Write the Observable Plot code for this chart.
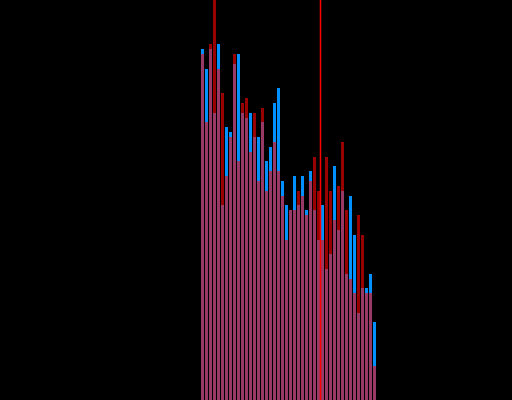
<!DOCTYPE html>
<html>
<head>
<meta charset="utf-8">
<script src="https://cdn.jsdelivr.net/npm/d3@7"></script>
<script src="https://cdn.jsdelivr.net/npm/@observablehq/plot@0.6"></script>
<style>
  html, body { margin: 0; padding: 0; background: #000; }
  #chart svg { display: block; }
</style>
</head>
<body>
<div id="chart"></div>
<script>
// Bin counts for the two overlaid distributions (bins 0..43).
const blueCounts = [351, 331, 351, 287, 356, 195, 273, 268, 336, 346, 287,
                    282, 287, 263, 263, 278, 239, 253, 297, 312, 219, 195,
                    190, 224, 195, 224, 190, 229, 190, 160, 195, 131, 146,
                    234, 170, 209, 126, 204, 165, 87, 112, 112, 126, 78];
const redCounts  = [346, 278, 356, 400, 331, 307, 224, 263, 346, 239, 297,
                    302, 248, 287, 219, 292, 209, 229, 258, 229, 204, 160,
                    190, 190, 209, 204, 185, 219, 243, 209, 160, 243, 209,
                    180, 214, 258, 190, 121, 107, 185, 165, 107, 107, 34];
// Mean position marked with a vertical rule (in bin units).
const meanBin = [29.75];

const blue = blueCounts.map((v, i) => ({bin: i, count: v}));
const red  = redCounts.map((v, i) => ({bin: i, count: v}));

const chart = Plot.plot({
  width: 512,
  height: 400,
  margin: 0,
  style: {background: "#000", overflow: "hidden"},
  x: {type: "linear", domain: [0, 44], range: [201, 377], axis: null},
  y: {domain: [0, 400], axis: null},
  marks: [
    Plot.rect(blue, {x1: "bin", x2: d => d.bin + 1, y1: 0, y2: "count",
                     insetRight: 1, fill: "#0090ff"}),
    Plot.rect(red, {x1: "bin", x2: d => d.bin + 1, y1: 0, y2: "count",
                    insetRight: 1, fill: "#ff0000", fillOpacity: 0.6}),
    Plot.ruleX(meanBin, {stroke: "#ff0000", strokeWidth: 1.5})
  ]
});
document.getElementById("chart").appendChild(chart);
</script>
</body>
</html>
